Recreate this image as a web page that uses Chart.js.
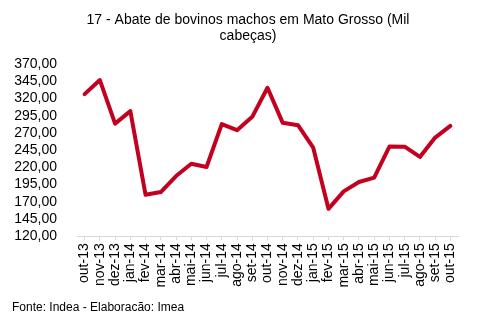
<!DOCTYPE html>
<html>
<head>
<meta charset="utf-8">
<script src="https://cdn.jsdelivr.net/npm/chart.js@4.4.1/dist/chart.umd.min.js"></script>
<style>
  html, body { margin: 0; padding: 0; background: #fff; }
  #wrap { width: 484px; height: 327px; position: relative; }
</style>
</head>
<body>
<div id="wrap"><canvas id="abateChart"></canvas></div>
<script>
// months (out-13 .. out-15)
const meses = ['out-13', 'nov-13', 'dez-13', 'jan-14', 'fev-14', 'mar-14', 'abr-14', 'mai-14', 'jun-14',
    'jul-14', 'ago-14', 'set-14', 'out-14', 'nov-14', 'dez-14', 'jan-15', 'fev-15', 'mar-15', 'abr-15',
    'mai-15', 'jun-15', 'jul-15', 'ago-15', 'set-15', 'out-15'];

// slaughter of male cattle, thousand heads
const abate = [326.3, 346.7, 283.5, 301.6, 180.2, 184.1, 207.4, 225.3, 220.5, 282.7, 274.0, 293.3,
    335.5, 284.6, 281.2, 248.6, 159.8, 185.1, 198.7, 205.0, 250.1, 250.0, 235.1, 263.2, 280.2];

// y axis range
const yMin = 120;
const yMax = 370;
const yStep = 25;

const titulo = ['17 - Abate de bovinos machos em Mato Grosso (Mil', 'cabeças)'];
const fonte = 'Fonte: Indea - Elaboracão: Imea';

Chart.defaults.font.family = '"Liberation Sans", Arial, sans-serif';
Chart.defaults.color = '#000';

const ctx = document.getElementById('abateChart').getContext('2d');
new Chart(ctx, {
    type: 'line',
    data: {
        labels: meses,
        datasets: [{
            label: 'Abate',
            data: abate,
            borderColor: 'rgb(196, 0, 32)',
            backgroundColor: 'rgb(196, 0, 32)',
            borderWidth: 4,
            borderJoinStyle: 'round',
            borderCapStyle: 'round',
            pointRadius: 0,
            tension: 0,
            yAxisID: 'y'
        }]
    },
    options: {
        responsive: true,
        maintainAspectRatio: false,
        animation: false,
        layout: {
            padding: { left: 12, right: 0, top: 0, bottom: 0 }
        },
        plugins: {
            legend: { display: false },
            tooltip: { enabled: false },
            title: {
                display: true,
                text: titulo,
                font: { size: 14, weight: 'normal', lineHeight: 16 / 14 },
                padding: { top: 12, bottom: 20 }
            },
            subtitle: {
                display: true,
                text: fonte,
                position: 'bottom',
                align: 'start',
                font: { size: 12, weight: 'normal' },
                padding: { top: 10, bottom: 12 }
            }
        },
        scales: {
            x: {
                offset: true,
                grid: {
                    display: true,
                    drawOnChartArea: false,
                    drawTicks: true,
                    tickLength: 4,
                    color: '#d9d9d9'
                },
                border: { display: true, color: '#d9d9d9' },
                ticks: {
                    autoSkip: false,
                    maxRotation: 90,
                    minRotation: 90,
                    padding: 3,
                    font: { size: 14 }
                }
            },
            y: {
                position: 'left',
                min: yMin,
                max: yMax,
                grid: { display: false },
                border: { display: false },
                ticks: {
                    stepSize: yStep,
                    autoSkip: false,
                    padding: 12,
                    font: { size: 14 },
                    callback: v => v.toFixed(2).replace('.', ',')
                },
                afterFit: scale => { scale.width = 65; }
            },
            yRight: {
                position: 'right',
                display: true,
                grid: { display: false },
                border: { display: false },
                ticks: { display: false },
                afterFit: scale => { scale.width = 26; }
            }
        }
    }
});
</script>
</body>
</html>
